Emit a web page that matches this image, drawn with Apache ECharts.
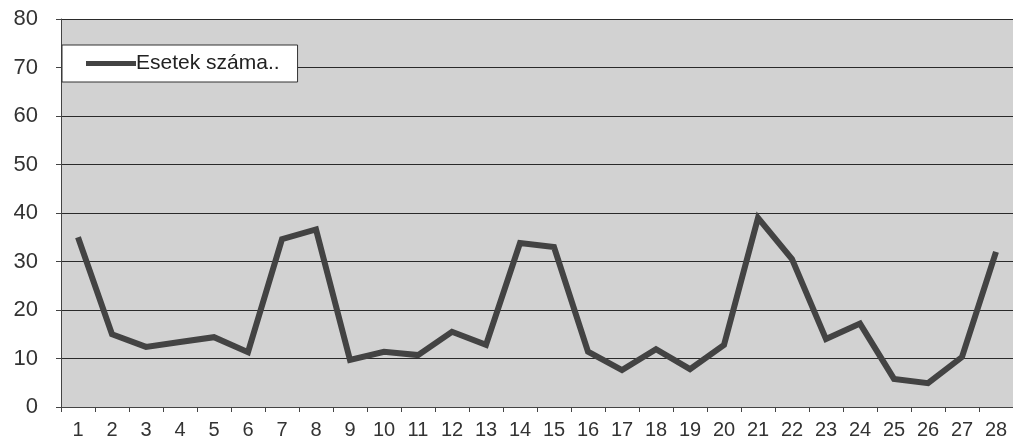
<!DOCTYPE html>
<html><head><meta charset="utf-8">
<script src="https://cdn.jsdelivr.net/npm/echarts@6/dist/echarts.min.js"></script>
<style>html,body{margin:0;padding:0;background:#fff}#c{width:1013px;height:442px}</style>
</head><body><div id="c"></div>
<script>
const categories = ['1','2','3','4','5','6','7','8','9','10','11','12','13','14','15','16','17','18','19','20','21','22','23','24','25','26','27','28'];
const seriesName = 'Esetek száma..';
const values = [35,15,12.4,13.4,14.4,11.3,34.6,36.6,9.7,11.4,10.7,15.5,12.8,33.8,33,11.4,7.6,11.9,7.8,12.8,39,30.5,14,17.2,5.8,4.9,10.3,32];
const yMin = 0, yMax = 80, yInterval = 10;

const chart = echarts.init(document.getElementById('c'));
chart.setOption({
  backgroundColor: '#ffffff',
  animation: false,
  grid: { left: 61, top: 19, width: 956, height: 388, show: true, backgroundColor: '#d2d2d2', borderWidth: 0 },
  legend: {
    left: 62, top: 45, padding: [8, 18, 8, 24],
    backgroundColor: '#ffffff', borderColor: '#333', borderWidth: 1,
    itemWidth: 50, itemHeight: 5, itemGap: 0,
    textStyle: { fontFamily: 'Liberation Sans, Arial', fontSize: 21, color: '#222', padding: [0,0,0,-5] },
    data: [{ name: seriesName, icon: 'rect' }]
  },
  xAxis: {
    type: 'category', data: categories, boundaryGap: true,
    axisLine: { lineStyle: { color: '#444', width: 1 } },
    axisTick: { show: true, length: 5, lineStyle: { color: '#444' } },
    axisLabel: { fontFamily: 'Liberation Sans, Arial', fontSize: 20, color: '#333', margin: 13, interval: 0 }
  },
  yAxis: {
    type: 'value', min: yMin, max: yMax, interval: yInterval,
    axisLine: { show: true, lineStyle: { color: '#444', width: 1 } },
    axisTick: { show: true, length: 5, lineStyle: { color: '#444' } },
    axisLabel: { fontFamily: 'Liberation Sans, Arial', fontSize: 22, color: '#333', margin: 23 },
    splitLine: { show: true, lineStyle: { color: '#2a2a2a', width: 1 } }
  },
  series: [{
    name: seriesName, type: 'line', data: values,
    symbol: 'none',
    itemStyle: { color: '#434343' },
    lineStyle: { color: '#434343', width: 6, join: 'miter' }
  }]
});
</script></body></html>
